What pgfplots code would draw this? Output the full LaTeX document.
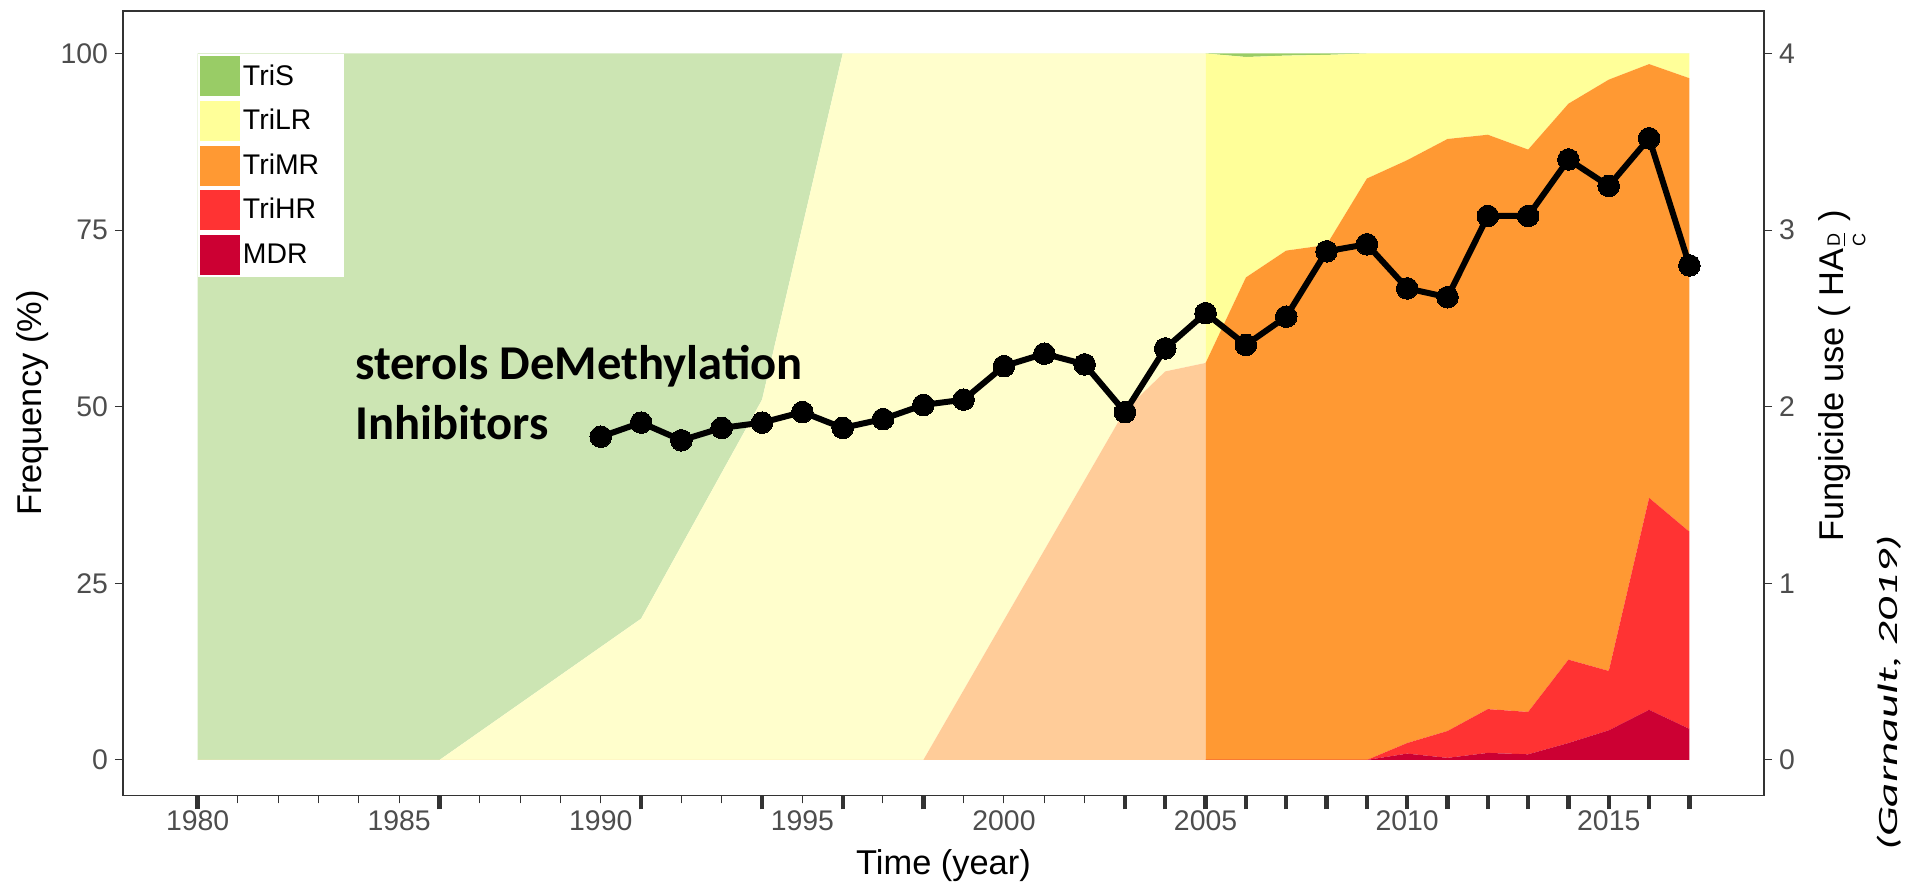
\documentclass[border=0pt]{standalone}
\usepackage{fontspec}
\setmainfont{Liberation Sans}
\newfontfamily\calibri{Carlito}
\usepackage{pgfplots}
\pgfplotsset{compat=1.18}
\usepackage{pgfplotstable}

% genotype colours and their washed-out versions for the early period
\definecolor{cS}{HTML}{99CC66}
\definecolor{cLR}{HTML}{FFFF99}
\definecolor{cMR}{HTML}{FF9933}
\definecolor{cHR}{HTML}{FF3333}
\definecolor{cMDR}{HTML}{CC0033}
\definecolor{cSl}{HTML}{CCE5B3}
\definecolor{cLRl}{HTML}{FFFECC}
\definecolor{cMRl}{HTML}{FFCC99}
\definecolor{framec}{HTML}{333333}
\definecolor{ticklab}{HTML}{4D4D4D}

\newcommand\ticksize{\fontsize{14.2}{16}\selectfont}
\newcommand\titlesize{\fontsize{17.2}{20}\selectfont}

% phenotype frequencies (%), 1980--2005
\pgfplotstableread{
year MR   LR   S
1980 0    0    100
1986 0    0    100
1991 0    20   80
1994 0    51   49
1996 0    100  0
1998 0    100  0
2003 49.5 50.5 0
2004 55   45   0
2005 56.2 43.8 0
}\early

% phenotype frequencies (%), 2005--2017
\pgfplotstableread{
year MDR HR   MR   LR   S
2005 0   0    56.2 43.8 0
2006 0   0    68.3 31.2 0.5
2007 0   0    72.1 27.6 0.3
2008 0   0    72.9 26.9 0.2
2009 0   0    82.3 17.7 0
2010 0.9 1.5  82.5 15.1 0
2011 0.3 3.8  83.8 12.1 0
2012 1.0 6.2  81.3 11.5 0
2013 0.8 6.0  79.6 13.6 0
2014 2.4 11.8 78.7 7.1  0
2015 4.2 8.4  83.7 3.7  0
2016 7.1 30.0 61.4 1.5  0
2017 4.4 27.9 64.2 3.5  0
}\late

% DMI fungicide use
\pgfplotstableread{
year use
1990 1.83
1991 1.91
1992 1.81
1993 1.88
1994 1.91
1995 1.97
1996 1.88
1997 1.93
1998 2.01
1999 2.04
2000 2.23
2001 2.30
2002 2.24
2003 1.97
2004 2.33
2005 2.53
2006 2.35
2007 2.51
2008 2.88
2009 2.92
2010 2.67
2011 2.62
2012 3.08
2013 3.08
2014 3.40
2015 3.25
2016 3.52
2017 2.80
}\dmi

\pgfplotsset{
  panel/.style={scale only axis, width=820.5pt, height=392.1pt,
    xmin=1978.15, xmax=2018.85, at={(0pt,0pt)}, anchor=south west},
}

\begin{document}
\begin{tikzpicture}
\path[use as bounding box] (-61.5pt,-43.85pt) rectangle (892pt,397.65pt);

% early period, lighter colours
\begin{axis}[panel, ymin=-5, ymax=106, hide axis, stack plots=y]
\addplot[fill=cMRl, draw=none] table[x=year, y=MR]{\early} \closedcycle;
\addplot[fill=cLRl, draw=none] table[x=year, y=LR]{\early} \closedcycle;
\addplot[fill=cSl, draw=none] table[x=year, y=S]{\early} \closedcycle;
\end{axis}

% recent period
\begin{axis}[panel, ymin=-5, ymax=106, hide axis, stack plots=y]
\addplot[fill=cMDR, draw=none] table[x=year, y=MDR]{\late} \closedcycle;
\addplot[fill=cHR, draw=none] table[x=year, y=HR]{\late} \closedcycle;
\addplot[fill=cMR, draw=none] table[x=year, y=MR]{\late} \closedcycle;
\addplot[fill=cLR, draw=none] table[x=year, y=LR]{\late} \closedcycle;
\addplot[fill=cS, draw=none] table[x=year, y=S]{\late} \closedcycle;
\end{axis}

% frame, time axis and frequency axis
\begin{axis}[panel, name=main, ymin=-5, ymax=106,
  axis line style={draw=framec, line width=0.65pt},
  xtick={1980,1985,...,2015},
  minor xtick={1980,...,2017},
  extra x ticks={1980,1986,1991,1994,1996,1998,2003,2004,2005,2006,2007,2008,2009,2010,2011,2012,2013,2014,2015,2016,2017},
  extra x tick labels={},
  extra x tick style={major tick length=7pt, tick style={line width=2.2pt, draw=framec}},
  ytick={0,25,50,75,100},
  xtick pos=left, ytick pos=left, tick align=outside,
  major tick length=4pt, minor tick length=4pt,
  tick style={draw=framec, line width=0.5pt},
  /pgf/number format/1000 sep={},
  /pgf/number format/assume math mode=true,
  xticklabel style={font=\ticksize, text=ticklab},
  yticklabel style={font=\ticksize, text=ticklab},
  xlabel={Time (year)},
  xlabel style={font=\titlesize, at={(axis description cs:0.5,-0.101)}, anchor=base},
  ylabel={Frequency (\%)},
  ylabel style={font=\titlesize, at={(axis description cs:-0.0549,0.5)}, anchor=center},
]
\node[anchor=base west, font=\calibri\bfseries\fontsize{24.3}{28}\selectfont, inner sep=0pt]
  at (axis cs:1983.9,53.8) {sterols DeMethylation};
\node[anchor=base west, font=\calibri\bfseries\fontsize{24.3}{28}\selectfont, inner sep=0pt]
  at (axis cs:1983.9,45.4) {Inhibitors};
\end{axis}

% fungicide use on the right-hand axis
\begin{axis}[panel, ymin=-0.2, ymax=4.24,
  axis x line=none, axis y line*=right,
  axis line style={draw=framec, line width=0.65pt},
  ytick={0,1,2,3,4}, tick align=outside, major tick length=4pt,
  tick style={draw=framec, line width=0.5pt},
  /pgf/number format/assume math mode=true,
  yticklabel style={font=\ticksize, text=ticklab},
  legend cell align=left,
  legend image code/.code={\fill[#1] (0pt,-10pt) rectangle (20pt,10pt);},
  legend style={at={(axis description cs:0.04545,0.94595)}, anchor=north west,
    draw=none, fill=white, inner xsep=1pt, inner ysep=1.25pt,
    row sep=2.3pt, column sep=1pt, font=\ticksize,
    nodes={inner sep=0.5pt, text width=49pt}},
]
\addlegendimage{fill=cS, draw=none}
\addlegendentry{TriS}
\addlegendimage{fill=cLR, draw=none}
\addlegendentry{TriLR}
\addlegendimage{fill=cMR, draw=none}
\addlegendentry{TriMR}
\addlegendimage{fill=cHR, draw=none}
\addlegendentry{TriHR}
\addlegendimage{fill=cMDR, draw=none}
\addlegendentry{MDR}
\addplot[black, line width=3pt, line join=round, mark=*, mark size=5.4pt,
  mark options={fill=black, draw=black, line width=0pt}, forget plot]
  table[x=year, y=use]{\dmi};
\end{axis}

% right-hand axis title and source note
\node[rotate=90, anchor=center, font=\titlesize]
  at ([xshift=39pt, yshift=209.8pt]main.south east)
  {Fungicide use ( HA\raisebox{-0.55ex}{\(\frac{\hbox{\fontsize{9}{9}\selectfont D}}{\hbox{\fontsize{9}{9}\selectfont C}}\)} )};
\node[rotate=90, anchor=center, font=\calibri\itshape\fontsize{14}{16}\selectfont]
  at ([xshift=62.5pt, yshift=51pt]main.south east)
  {\scalebox{1.68}[1]{(Garnault, 2019)}};
\end{tikzpicture}
\end{document}
